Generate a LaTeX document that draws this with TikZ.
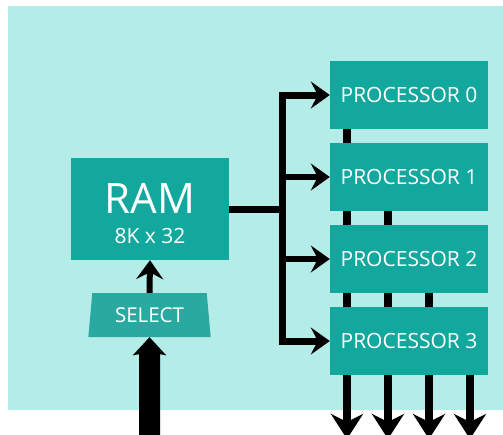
\documentclass[tikz,border=0pt]{standalone}
\usepackage{fontspec}
\setmainfont{Open Sans}
\usetikzlibrary{arrows.meta,shapes.geometric,calc}
\definecolor{panel}{HTML}{B4ECE7}
\definecolor{unit}{HTML}{13A89E}
\definecolor{selfill}{HTML}{2AA9A0}
\begin{document}
\begin{tikzpicture}[x=1pt,y=-1pt,
  unitbox/.style={fill=unit, draw=none, text=white, minimum width=158pt,
    minimum height=68pt, inner sep=0pt, font=\fontsize{21}{25}\selectfont},
  selbox/.style={trapezium, trapezium stretches=true, trapezium left angle=81,
    trapezium right angle=81, fill=selfill, draw=none, text=white,
    minimum width=123pt, minimum height=44pt, inner sep=0pt,
    font=\fontsize{20.5}{24}\selectfont},
  head/.tip={Stealth[length=19pt,width=27pt,inset=7pt]},
  bus/.style={line width=7pt, line join=miter, line cap=butt},
  feed/.style={line width=6pt, line join=miter, -head},
  feedboth/.style={line width=7pt, line join=miter, head-head},
  link/.style={line width=8pt},
  outarrow/.style={line width=8pt, -{Stealth[length=25pt,width=32pt,inset=8pt]}},
  bigarrow/.style={line width=21pt, -{Stealth[length=18pt,width=33pt,inset=3pt]}}
]
\useasboundingbox (0,0) rectangle (503,434);
\clip (0,0) rectangle (503,434);

% panel
\fill[panel] (8,6) rectangle (503,410);

% memory and selector
\node[unitbox, minimum width=158pt, minimum height=102pt] (ram) at (150,209) {};
\node[anchor=base, text=white, font=\fontsize{42}{42}\selectfont] (ramname)
  at ($(ram.center)+(0,4)$) {RAM};
\node[anchor=base, text=white, font=\fontsize{21}{25}\selectfont] (ramsize)
  at ($(ram.center)+(0,34)$) {8K x 32};
\node[selbox] (sel) at (149.5,315) {SELECT};

% processors
\node[unitbox] (p0) at (409,95)  {PROCESSOR 0};
\node[unitbox] (p1) at (409,177) {PROCESSOR 1};
\node[unitbox] (p2) at (409,259) {PROCESSOR 2};
\node[unitbox] (p3) at (409,341) {PROCESSOR 3};

% bus columns
\coordinate (busx) at (282.5,0);
\coordinate (c1) at (347,0);
\coordinate (c2) at (388,0);
\coordinate (c3) at (429,0);
\coordinate (c4) at (470,0);
\coordinate (bottom) at (0,439);
\coordinate (selin) at (149.5,440);

% distribution bus from memory
\coordinate (tap) at (busx |- ram.east);
\draw[bus] (ram.east) -- (tap);
\draw[feedboth] (p0.west) -- (p0.west -| busx) -- (p3.west -| busx) -- (p3.west);
\draw[feed] (p1.west -| busx) -- (p1.west);
\draw[feed] (p2.west -| busx) -- (p2.west);

% selector into memory
\draw[feed] (sel.north) -- (ram.south);
\draw[bigarrow] (selin) -- (sel.south);

% links between processors
\draw[link] (p0.south -| c1) -- (p1.north -| c1);
\draw[link] (p1.south -| c1) -- (p2.north -| c1);
\draw[link] (p1.south -| c2) -- (p2.north -| c2);
\draw[link] (p2.south -| c1) -- (p3.north -| c1);
\draw[link] (p2.south -| c2) -- (p3.north -| c2);
\draw[link] (p2.south -| c3) -- (p3.north -| c3);

% outputs
\draw[outarrow] (p3.south -| c1) -- (c1 |- bottom);
\draw[outarrow] (p3.south -| c2) -- (c2 |- bottom);
\draw[outarrow] (p3.south -| c3) -- (c3 |- bottom);
\draw[outarrow] (p3.south -| c4) -- (c4 |- bottom);
\end{tikzpicture}
\end{document}
